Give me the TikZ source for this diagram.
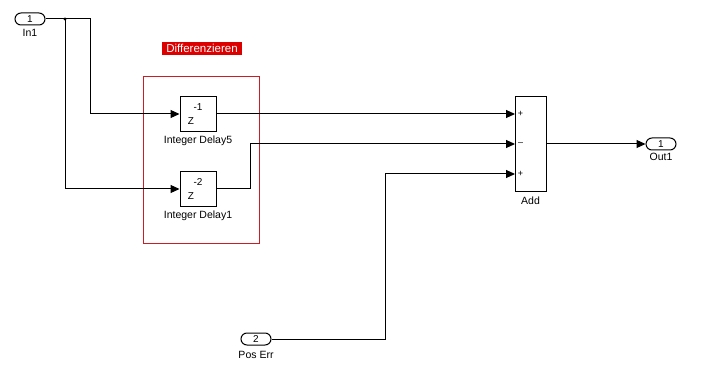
\documentclass[tikz,border=0pt]{standalone}
\usepackage{fontspec}
\setmainfont{Liberation Sans}
\usetikzlibrary{arrows.meta}
\definecolor{redlbl}{RGB}{220,0,0}
\definecolor{redbox}{RGB}{200,30,40}
\begin{document}
\begin{tikzpicture}[x=1pt,y=-1pt,
 port/.style={draw,rounded corners=6pt,minimum width=30pt,minimum height=12pt,inner sep=0pt,font=\fontsize{10}{10}\selectfont,line width=1pt},
 blk/.style={draw,line width=1pt,inner sep=0pt},
 lbl/.style={font=\fontsize{10.5}{10.5}\selectfont,inner sep=0pt},
 small/.style={font=\fontsize{10}{10}\selectfont,inner sep=0pt},
 sgn/.style={font=\fontsize{9}{9}\selectfont,inner sep=0pt},
 sig/.style={line width=1pt},
 arr/.style={sig,-{Triangle[length=9pt,width=8pt]}}]
\useasboundingbox[fill=white] (0,0) rectangle (704,374);

% group box and label
\draw[redbox,line width=1pt] (143,77) rectangle (259,243);
\node[fill=redlbl,text=white,minimum width=80pt,minimum height=13pt,inner sep=0pt,font=\fontsize{11.5}{11.5}\selectfont] (diff) at (202,48.5) {Differenzieren};

% ports
\node[port] (in1) at (30,19) {1};
\node[lbl] (in1l) at (30,33) {In1};
\node[port] (pe) at (256,339) {2};
\node[lbl] (pel) at (256,355) {Pos Err};
\node[port] (out1) at (661,144) {1};
\node[lbl] (out1l) at (661,157) {Out1};

% delays
\node[blk,minimum width=36pt,minimum height=35pt] (d5) at (198,114) {};
\node[small] (d5z) at (191,121) {Z};
\node[small] (d5e) at (198,107) {-1};
\node[lbl] (d5l) at (198,141) {Integer Delay5};

\node[blk,minimum width=36pt,minimum height=35pt] (d1) at (198,189) {};
\node[small] (d1z) at (191,196) {Z};
\node[small] (d1e) at (198,182) {-2};
\node[lbl] (d1l) at (198,216) {Integer Delay1};

% add
\node[blk,minimum width=31pt,minimum height=95pt] (add) at (530.5,144) {};
\node[lbl] (addl) at (530.5,201) {Add};
\coordinate (a1) at (515,114);
\coordinate (a2) at (515,144);
\coordinate (a3) at (515,174);
\node[sgn] (s1) at (520.5,114) {+};
\node[sgn] (s2) at (520.5,144) {--};
\node[sgn] (s3) at (520.5,174) {+};

% connectors
\coordinate (jn) at (65,19);
\draw[arr] (in1.east) -- ++(45,0) |- (d5.west);
\draw[arr] (jn) |- (d1.west);
\fill (jn) circle (1.6);
\draw[arr] (d5.east) -- (a1);
\draw[arr] (d1.east) -- ++(34,0) |- (a2);
\draw[arr] (pe.east) -- ++(114,0) |- (a3);
\draw[arr] (add.east) -- (out1.west);
\end{tikzpicture}
\end{document}
